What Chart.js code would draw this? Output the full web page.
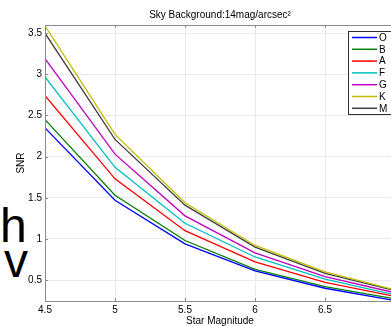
<!DOCTYPE html>
<html>
<head>
<meta charset="utf-8">
<script src="https://cdn.jsdelivr.net/npm/chart.js@4.4.1/dist/chart.umd.min.js"></script>
<style>
  html, body { margin: 0; padding: 0; overflow: hidden; background: #fff; }
  #wrap { position: relative; width: 395px; height: 326px; }
  #snr { position: absolute; left: 0; top: 0; }
  .side { position: absolute; font-family: 'Liberation Sans', Arial, sans-serif; font-size: 48px; line-height: 48px; color: #000; }
</style>
</head>
<body>
<div id="wrap">
  <div class="side" style="left:0px; top:202px;">h</div>
  <div class="side" style="left:4px; top:237px;">v</div>
  <canvas id="snr" width="395" height="326"></canvas>
</div>
<script>
const magnitudes = [4.5, 5, 5.5, 6, 6.5, 7]
const spectralTypes = ['O', 'B', 'A', 'F', 'G', 'K', 'M']
const snrO = [2.35, 1.47, 0.94, 0.61, 0.40, 0.25]
const snrB = [2.45, 1.53, 0.98, 0.63, 0.42, 0.27]
const snrA = [2.74, 1.73, 1.10, 0.72, 0.47, 0.30]
const snrF = [2.97, 1.87, 1.19, 0.78, 0.51, 0.32]
const snrG = [3.19, 2.03, 1.28, 0.83, 0.54, 0.345]
const snrK = [3.59, 2.27, 1.44, 0.92, 0.60, 0.38]
const snrM = [3.50, 2.21, 1.41, 0.90, 0.58, 0.37]
const xTicks = [4.5, 5, 5.5, 6, 6.5, 7]
const yTicks = [0.5, 1, 1.5, 2, 2.5, 3, 3.5]

const allSeries = [snrO, snrB, snrA, snrF, snrG, snrK, snrM]
const colors = ['rgb(0,0,255)', 'rgb(0,128,0)', 'rgb(255,0,0)', 'rgb(0,191,191)', 'rgb(191,0,191)', 'rgb(191,191,0)', 'rgb(64,64,64)']

const font = "'Liberation Sans', Arial, sans-serif"

const datasets = spectralTypes.map((name, i) => ({
    label: name,
    data: magnitudes.map((m, j) => ({ x: m, y: allSeries[i][j] })),
    borderColor: colors[i],
    backgroundColor: colors[i],
    borderWidth: 1.3,
    pointRadius: 0,
    tension: 0,
    fill: false
}))

// box, inward ticks and the legend, matlab style
const boxPlugin = {
    id: 'box',
    afterDraw(chart) {
        const ctx = chart.ctx
        const a = chart.chartArea
        const xs = chart.scales.x
        const ys = chart.scales.y
        ctx.save()
        ctx.strokeStyle = '#8a8a8a'
        ctx.lineWidth = 1
        ctx.beginPath()
        xTicks.forEach(v => {
            const px = Math.round(xs.getPixelForValue(v)) + 0.5
            ctx.moveTo(px, a.top); ctx.lineTo(px, a.top + 3)
            ctx.moveTo(px, a.bottom); ctx.lineTo(px, a.bottom - 3)
        })
        yTicks.forEach(v => {
            const py = Math.round(ys.getPixelForValue(v)) + 0.5
            ctx.moveTo(a.left, py); ctx.lineTo(a.left + 3, py)
        })
        ctx.stroke()
        ctx.strokeRect(Math.round(a.left) + 0.5, Math.round(a.top) + 0.5, Math.round(a.right - a.left) - 1, Math.round(a.bottom - a.top))

        // legend
        const lx = 348, ly = 31, lw = 47, lh = 83
        ctx.fillStyle = '#fff'
        ctx.fillRect(lx, ly, lw, lh)
        ctx.strokeStyle = '#303030'
        ctx.strokeRect(lx + 0.5, ly + 0.5, lw, lh)
        ctx.font = '10px ' + font
        ctx.textBaseline = 'middle'
        ctx.textAlign = 'left'
        chart.data.datasets.forEach((ds, i) => {
            const y = ly + 6.5 + i * 11.8
            ctx.strokeStyle = ds.borderColor
            ctx.lineWidth = 1.5
            ctx.beginPath()
            ctx.moveTo(352, y); ctx.lineTo(377, y)
            ctx.stroke()
            ctx.fillStyle = '#000'
            ctx.fillText(ds.label, 379, y + 0.5)
        })
        ctx.restore()
    }
}

new Chart(document.getElementById('snr'), {
    type: 'line',
    data: { datasets: datasets },
    options: {
        responsive: false,
        animation: false,
        devicePixelRatio: 1,
        layout: { padding: 0 },
        plugins: {
            legend: { display: false },
            tooltip: { enabled: false },
            title: {
                display: true,
                fullSize: false,
                text: 'Sky Background:14mag/arcsec²',
                color: '#000',
                font: { family: font, size: 10, weight: 'normal' },
                padding: { top: 9, bottom: 4 }
            }
        },
        scales: {
            x: {
                type: 'linear',
                min: 4.5,
                max: 7,
                afterBuildTicks: s => { s.ticks = xTicks.map(v => ({ value: v })) },
                afterFit: s => { s.height = 25; s.paddingLeft = 0; s.paddingRight = 0 },
                grid: { color: '#e9e9e9', drawTicks: false },
                border: { display: false },
                ticks: { color: '#000', padding: 3, maxRotation: 0, font: { family: font, size: 10 }, callback: v => String(v) },
                title: { display: true, text: 'Star Magnitude', color: '#000', font: { family: font, size: 10, lineHeight: 1 }, padding: 0 }
            },
            y: {
                min: 0.245,
                max: 3.6,
                afterBuildTicks: s => { s.ticks = yTicks.map(v => ({ value: v })) },
                afterFit: s => { s.width = 45 },
                grid: { color: '#e9e9e9', drawTicks: false },
                border: { display: false },
                ticks: { color: '#000', padding: 3, font: { family: font, size: 10 }, callback: v => String(v) },
                title: { display: true, text: 'SNR', color: '#000', font: { family: font, size: 10 }, padding: { top: 15, bottom: 0 } }
            }
        }
    },
    plugins: [boxPlugin]
})
</script>
</body>
</html>
